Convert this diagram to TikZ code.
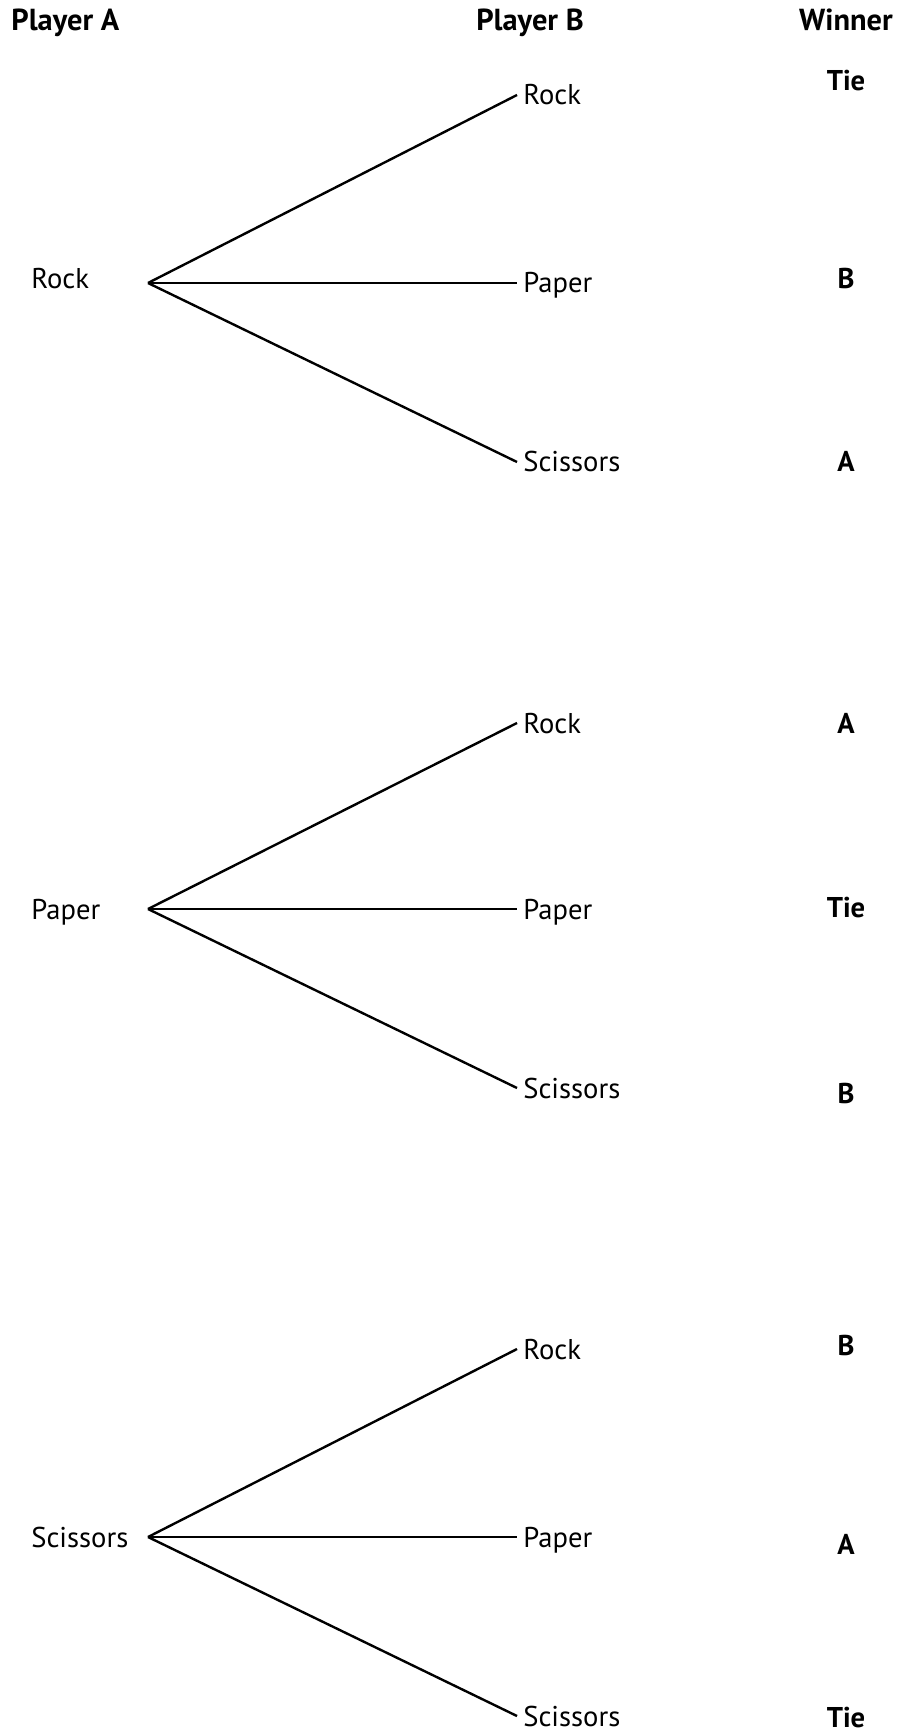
\documentclass[tikz,border=0pt]{standalone}
\usepackage{fontspec}
\setmainfont{PT Sans}

\begin{document}
\begin{tikzpicture}[x=0.5pt,y=-0.5pt, inner xsep=3pt, inner ysep=0pt,
  font=\fontsize{14.3}{17}\selectfont, text height=10pt, text depth=0pt,
  head/.style={font=\fontsize{15.2}{18}\selectfont\bfseries},
  win/.style={font=\fontsize{14.3}{17}\selectfont\bfseries}]
\useasboundingbox (0,0) rectangle (900,1732);
% column heads
\node (ha) at (5,21) [anchor=west, head] {Player A};
\node (hb) at (530,21) [head] {Player B};
\node (hw) at (846,21) [head] {Winner};
% A plays rock
\node (a1) at (25,279) [anchor=west] {Rock};
\coordinate (r1) at (148,283);
\node (b1r) at (517,95) [anchor=west] {Rock};
\node (b1p) at (517,283) [anchor=west] {Paper};
\node (b1s) at (517,462) [anchor=west] {Scissors};
\node (w1r) at (846,81) [win] {Tie};
\node (w1p) at (846,279) [win] {B};
\node (w1s) at (846,462) [win] {A};
\draw[-, line width=1.2pt] (r1) -- (b1r.west);
\draw[-, line width=1.2pt] (r1) -- (b1p.west);
\draw[-, line width=1.2pt] (r1) -- (b1s.west);
% A plays paper
\node (a2) at (25,909) [anchor=west] {Paper};
\coordinate (r2) at (148,909);
\node (b2r) at (517,723) [anchor=west] {Rock};
\node (b2p) at (517,909) [anchor=west] {Paper};
\node (b2s) at (517,1088) [anchor=west] {Scissors};
\node (w2r) at (846,723) [win] {A};
\node (w2p) at (846,907) [win] {Tie};
\node (w2s) at (846,1093) [win] {B};
\draw[-, line width=1.2pt] (r2) -- (b2r.west);
\draw[-, line width=1.2pt] (r2) -- (b2p.west);
\draw[-, line width=1.2pt] (r2) -- (b2s.west);
% A plays scissors
\node (a3) at (25,1537) [anchor=west] {Scissors};
\coordinate (r3) at (148,1537);
\node (b3r) at (517,1349) [anchor=west] {Rock};
\node (b3p) at (517,1537) [anchor=west] {Paper};
\node (b3s) at (517,1716) [anchor=west] {Scissors};
\node (w3r) at (846,1345) [win] {B};
\node (w3p) at (846,1544) [win] {A};
\node (w3s) at (846,1717) [win] {Tie};
\draw[-, line width=1.2pt] (r3) -- (b3r.west);
\draw[-, line width=1.2pt] (r3) -- (b3p.west);
\draw[-, line width=1.2pt] (r3) -- (b3s.west);
\end{tikzpicture}
\end{document}
